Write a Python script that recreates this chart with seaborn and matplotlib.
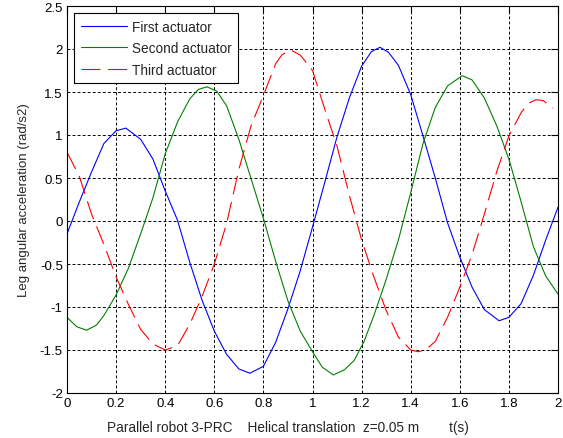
import matplotlib
matplotlib.use("Agg")
import matplotlib.pyplot as plt
import seaborn as sns

# first actuator: time (s) and acceleration (rad/s2)
t_first = [0.00, 0.05, 0.10, 0.15, 0.20, 0.24, 0.30, 0.35, 0.40, 0.45,
           0.50, 0.55, 0.60, 0.65, 0.70, 0.745, 0.80, 0.85, 0.90, 0.95,
           1.00, 1.05, 1.10, 1.15, 1.20, 1.24, 1.275, 1.31, 1.35, 1.40,
           1.45, 1.50, 1.55, 1.60, 1.65, 1.70, 1.76, 1.80, 1.85, 1.90,
           1.95, 2.00]
first_act = [-0.15, 0.22, 0.57, 0.90, 1.05, 1.08, 0.95, 0.72, 0.35, 0.01,
             -0.48, -0.92, -1.28, -1.55, -1.72, -1.77, -1.69, -1.41, -1.02, -0.58,
             -0.07, 0.45, 0.98, 1.43, 1.80, 1.97, 2.02, 1.96, 1.81, 1.47,
             0.99, 0.50, -0.02, -0.42, -0.77, -1.03, -1.16, -1.12, -0.96, -0.63,
             -0.22, 0.16]

# second actuator
t_second = [0.00, 0.04, 0.08, 0.12, 0.15, 0.20, 0.25, 0.30, 0.35, 0.40,
            0.45, 0.50, 0.535, 0.57, 0.61, 0.65, 0.70, 0.75, 0.80, 0.85,
            0.90, 0.95, 1.00, 1.04, 1.085, 1.13, 1.17, 1.21, 1.25, 1.30,
            1.35, 1.40, 1.45, 1.50, 1.55, 1.61, 1.65, 1.70, 1.75, 1.80,
            1.85, 1.90, 1.95, 2.00]
second_act = [-1.12, -1.23, -1.27, -1.21, -1.10, -0.86, -0.55, -0.15, 0.27, 0.78,
              1.15, 1.42, 1.53, 1.56, 1.51, 1.34, 0.95, 0.49, 0.03, -0.47,
              -0.93, -1.28, -1.52, -1.70, -1.79, -1.73, -1.62, -1.40, -1.10, -0.68,
              -0.22, 0.33, 0.90, 1.32, 1.57, 1.69, 1.64, 1.43, 1.11, 0.72,
              0.22, -0.30, -0.64, -0.85]

# third actuator
t_third = [0.00, 0.05, 0.10, 0.15, 0.20, 0.25, 0.30, 0.35, 0.40, 0.45,
           0.50, 0.55, 0.60, 0.65, 0.70, 0.75, 0.80, 0.85, 0.875, 0.91,
           0.95, 1.00, 1.05, 1.10, 1.15, 1.20, 1.25, 1.30, 1.35, 1.40,
           1.43, 1.46, 1.50, 1.55, 1.60, 1.65, 1.70, 1.75, 1.80, 1.85,
           1.88, 1.91, 1.94, 1.98]
third_act = [0.80, 0.52, 0.08, -0.27, -0.65, -0.97, -1.26, -1.43, -1.50, -1.45,
             -1.20, -0.88, -0.50, -0.03, 0.60, 1.11, 1.46, 1.83, 1.93, 1.99,
             1.93, 1.75, 1.30, 0.87, 0.30, -0.22, -0.65, -1.04, -1.35, -1.50,
             -1.52, -1.50, -1.40, -1.12, -0.77, -0.39, 0.08, 0.57, 0.99, 1.26,
             1.37, 1.41, 1.40, 1.31]

x_ticks = [0, 0.2, 0.4, 0.6, 0.8, 1, 1.2, 1.4, 1.6, 1.8, 2]
x_labels = ["0", "0.2", "0.4", "0.6", "0.8", "1", "1.2", "1.4", "1.6", "1.8", "2"]
y_ticks = [-2, -1.5, -1, -0.5, 0, 0.5, 1, 1.5, 2, 2.5]
y_labels = ["-2", "-1.5", "-1", "-0.5", "0", "0.5", "1", "1.5", "2", "2.5"]

sns.set_style("white")
plt.rcParams['font.family'] = ['Liberation Sans', 'DejaVu Sans']
plt.rcParams['font.size'] = 9.5

fig = plt.figure(figsize=(5.63, 4.39), dpi=100)
ax = fig.add_axes([67 / 563, 45 / 439, 491 / 563, 387 / 439])

sns.lineplot(x=t_first, y=first_act, ax=ax, color='#0000ff', linewidth=0.8,
             label='First actuator')
sns.lineplot(x=t_second, y=second_act, ax=ax, color='#008000', linewidth=0.8,
             label='Second actuator')
sns.lineplot(x=t_third, y=third_act, ax=ax, color='#ff0000', linewidth=0.8,
             dashes=(17, 7), label='Third actuator')

ax.set_xlim(0, 2)
ax.set_ylim(-2, 2.5)
ax.set_xticks(x_ticks)
ax.set_xticklabels(x_labels)
ax.set_yticks(y_ticks)
ax.set_yticklabels(y_labels)
ax.tick_params(direction='in', length=5, width=0.8, top=True, right=True,
               colors='black', labelsize=9.5, pad=3)
ax.grid(True, color='black', linestyle=(0, (3, 2.2)), linewidth=0.7)
for s in ax.spines.values():
    s.set_color('black')
    s.set_linewidth(0.8)

ax.set_xlabel("Parallel robot 3-PRC    Helical translation  z=0.05 m        t(s)",
              fontsize=9.8)
ax.xaxis.set_label_coords((288 - 67) / 491, -0.07)
ax.set_ylabel("Leg angular acceleration (rad/s2)", fontsize=9.5, labelpad=7)

leg = ax.legend(loc='upper left', fontsize=9.8, frameon=True, fancybox=False,
                edgecolor='black', framealpha=1, borderaxespad=0.55,
                handlelength=3.4, handletextpad=0.4, labelspacing=0.55,
                borderpad=0.45)
leg.get_frame().set_linewidth(0.8)

fig.savefig("out.png", dpi=100)
